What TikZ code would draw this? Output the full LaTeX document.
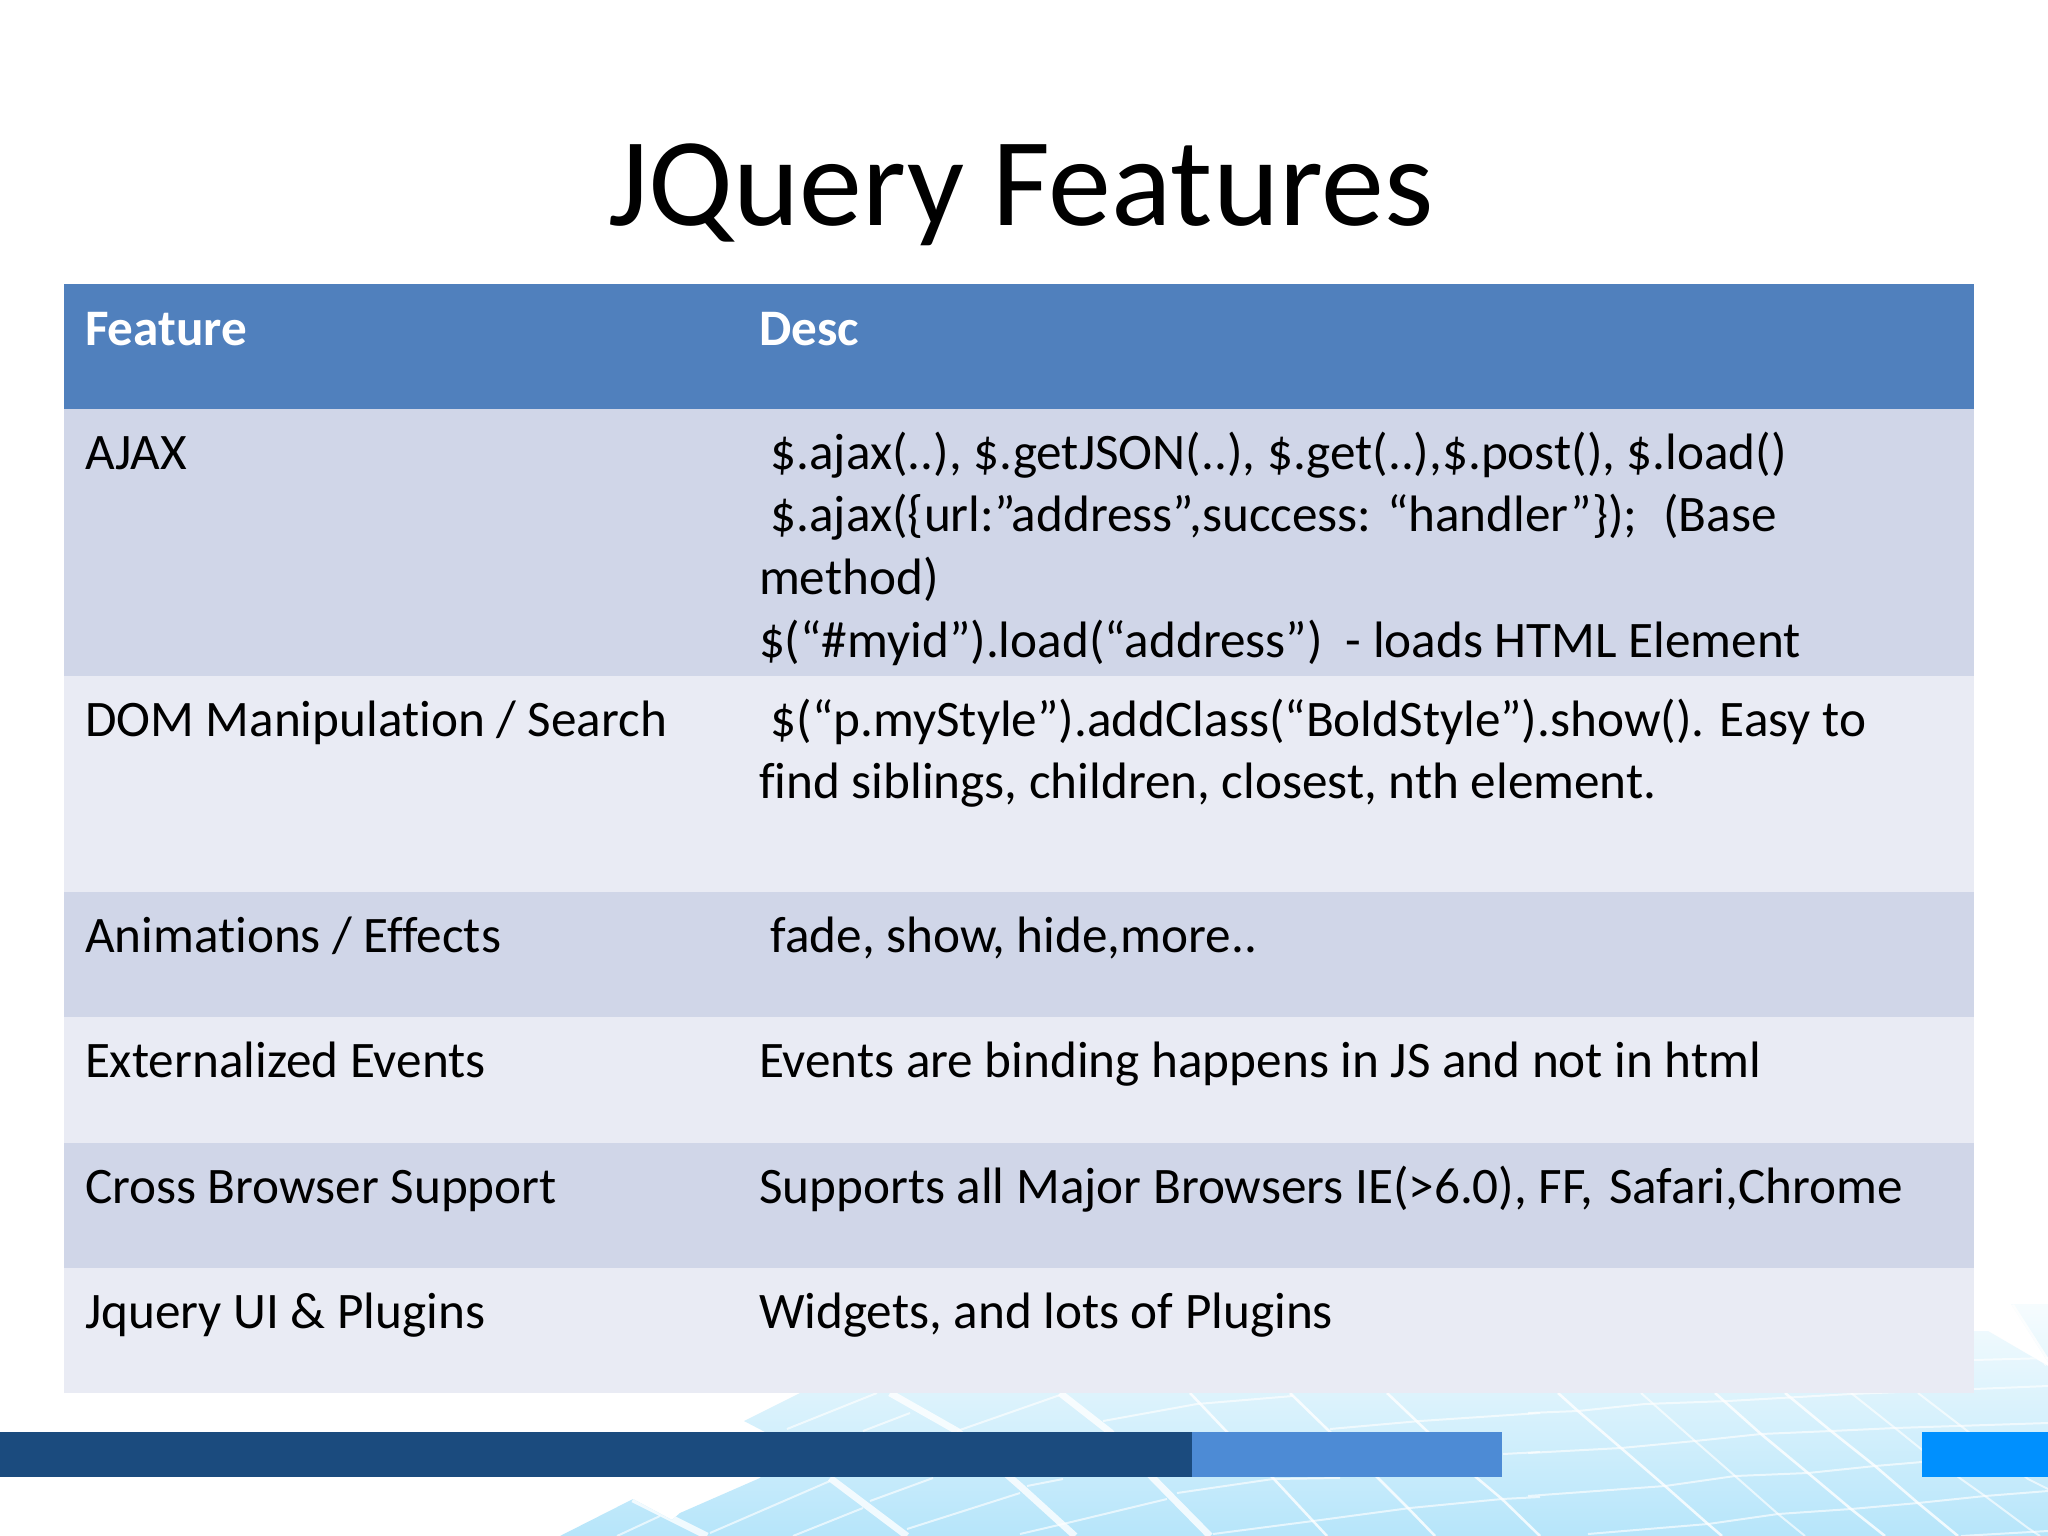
\documentclass[tikz,border=0pt]{standalone}
\usepackage{fontspec}
\setmainfont[Ligatures=NoCommon]{Carlito}
\definecolor{headblue}{HTML}{5080BD}
\definecolor{rowdark}{HTML}{D0D6E8}
\definecolor{rowlight}{HTML}{E9EBF4}
\definecolor{bardark}{HTML}{1B4B7E}
\definecolor{barmid}{HTML}{4D8BD5}
\definecolor{barbright}{HTML}{0090FE}
\definecolor{meshtop}{HTML}{F6FCFE}
\definecolor{meshbot}{HTML}{B6E5FA}
\tikzset{
  celltext/.style={anchor=base west,inner sep=0pt,outer sep=0pt,font=\fontsize{18}{22}\selectfont,text=black},
  headtext/.style={anchor=base west,inner sep=0pt,outer sep=0pt,font=\fontsize{18}{22}\selectfont\bfseries,text=white},
  titletext/.style={anchor=base,inner sep=0pt,outer sep=0pt,font=\fontsize{44.3}{53}\selectfont,text=black},
  gridthick/.style={draw=white,line width=2.4pt,opacity=.8},
  gridthin/.style={draw=white,line width=.9pt,opacity=.8},
  gridfine/.style={draw=white,line width=.7pt,opacity=.65}
}
\newcommand{\lead}{\hspace*{.226em}}
\begin{document}
\begin{tikzpicture}[x=0.3515625pt,y=-0.3515625pt]
\useasboundingbox (0,0) rectangle (2048,1536);
\fill[white] (0,0) rectangle (2048,1536);
% background mesh
\begin{scope}
\clip (560,1536) -- (633,1499) -- (672,1520) -- (680,1513) -- (760,1478) -- (790,1445) -- (744,1421) -- (810,1388)
  -- (1974,1388) -- (1974,1331) -- (1988,1331) -- (2048,1366) -- (2048,1536) -- cycle
  (2011,1304) -- (2048,1304) -- (2048,1362) -- cycle;
\shade[top color=meshtop,bottom color=meshbot] (540,1304) rectangle (2048,1536);
% long lines
\draw[gridthick] (633,1499) -- (707,1536);
\draw[gridthick] (830,1478) -- (907,1536);
\draw[gridthick] (890,1393) -- (957,1431) -- (1020,1486) -- (1075,1536);
\draw[gridthick] (1060,1393) -- (1110,1432) -- (1153,1478) -- (1210,1536);
\draw[gridthin] (1190,1393) -- (1227,1432) -- (1273,1478) -- (1313,1521) -- (1327,1536);
\draw[gridthin] (1290,1393) -- (1327,1429) -- (1378,1478) -- (1408,1508) -- (1435,1536);
\draw[gridthin] (1387,1393) -- (1428,1432) -- (1477,1478) -- (1502,1499) -- (1540,1536);
\draw[gridthin] (1558,1393) -- (1578,1411) -- (1621,1448) -- (1665,1486) -- (1708,1524) -- (1722,1536);
\draw[gridfine] (1641,1393) -- (1695,1441) -- (1735,1476) -- (1778,1514) -- (1805,1536);
\draw[gridthin] (1715,1393) -- (1761,1434) -- (1808,1473) -- (1851,1509) -- (1885,1536);
\draw[gridthin] (1785,1393) -- (1831,1431) -- (1875,1466) -- (1918,1503) -- (1958,1536);
\draw[gridfine] (1851,1393) -- (1895,1428) -- (1921,1449) -- (1961,1479) -- (1985,1496) -- (2028,1528) -- (2040,1536);
\draw[gridfine] (1918,1393) -- (1961,1426) -- (2028,1479) -- (2048,1489);
\draw[gridthick] (2011,1306) -- (2048,1364);
% cross lines
\draw[gridfine] (1528,1413) -- (1578,1411) -- (1645,1404) -- (1728,1401) -- (1851,1394) -- (2048,1386);
\draw[gridfine] (1528,1453) -- (1621,1448) -- (1695,1441) -- (1761,1434) -- (1831,1431) -- (1895,1428) -- (2048,1423);
\draw[gridfine] (1528,1496) -- (1665,1486) -- (1735,1476) -- (1808,1473) -- (1875,1466) -- (1922,1462);
\draw[gridfine] (1588,1534) -- (1708,1524) -- (1778,1514) -- (1851,1509) -- (1918,1503) -- (1985,1496) -- (2048,1491);
\draw[gridfine] (1961,1536) -- (2048,1531);
\draw[gridfine] (1974,1360) -- (2048,1358);
\draw[gridfine] (1020,1409) -- (1060,1395);
\draw[gridfine] (1103,1421) -- (1197,1404) -- (1293,1396);
\draw[gridfine] (1330,1429) -- (1420,1421) -- (1540,1413);
\draw[gridfine] (1027,1486) -- (1063,1479);
\draw[gridfine] (1177,1493) -- (1273,1479) -- (1340,1478);
\draw[gridfine] (1063,1524) -- (1167,1499);
\draw[gridfine] (1020,1534) -- (1063,1524);
\draw[gridfine] (1213,1534) -- (1313,1521) -- (1410,1508) -- (1502,1499) -- (1540,1497);
\draw[gridfine] (1503,1454) -- (1540,1452);
\draw[gridfine] (617,1536) -- (660,1516);
\draw[gridfine] (710,1533) -- (830,1481);
\draw[gridfine] (793,1536) -- (863,1508);
\draw[gridfine] (870,1501) -- (933,1478);
\draw[gridfine] (907,1529) -- (1020,1493);
\draw[gridfine] (787,1429) -- (877,1393);
\draw[gridfine] (863,1431) -- (910,1413);
\draw[gridfine] (957,1431) -- (1020,1409);
\end{scope}
% bars
\fill[bardark] (0,1432) rectangle (1192,1477);
\fill[barmid] (1192,1432) rectangle (1502,1477);
\fill[barbright] (1922,1432) rectangle (2048,1477);
% table
\fill[headblue] (64,284) rectangle (1974,409);
\fill[rowdark] (64,409) rectangle (1974,676);
\fill[rowlight] (64,676) rectangle (1974,892);
\fill[rowdark] (64,892) rectangle (1974,1017);
\fill[rowlight] (64,1017) rectangle (1974,1143);
\fill[rowdark] (64,1143) rectangle (1974,1268);
\fill[rowlight] (64,1268) rectangle (1974,1393);
% title
\node[titletext] (title) at (1021,226) {JQuery Features};
% header
\node[headtext] (h1) at (85,346) {Feature};
\node[headtext] (h2) at (759,346) {Desc};
% rows
\node[celltext] (a1) at (85,470) {AJAX};
\node[celltext] (a2) at (759,470) {\lead\$.ajax(..), \$.getJSON(..), \$.get(..),\$.post(), \$.load()};
\node[celltext] (a3) at (759,532) {\lead\$.ajax(\{url:”address”,success: “handler”\});\ \ \kern.05em(Base};
\node[celltext] (a4) at (759,595) {method)};
\node[celltext] (a5) at (759,657) {\$(“\#myid”).load(“address”)\ \ - loads HTML Element};
\node[celltext] (d1) at (85,736) {DOM Manipulation / Search};
\node[celltext] (d2) at (759,736) {\lead\$(“p.myStyle”).addClass(“BoldStyle”).show(). Easy to};
\node[celltext] (d3) at (759,798) {find siblings, children, closest, nth element.};
\node[celltext] (e1) at (85,952) {Animations / Effects};
\node[celltext] (e2) at (759,952) {\lead fade, show, hide,more..};
\node[celltext] (f1) at (85,1077) {Externalized Events};
\node[celltext] (f2) at (759,1077) {Events are binding happens in JS and not in html};
\node[celltext] (g1) at (85,1203) {Cross Browser Support};
\node[celltext] (g2) at (759,1203) {Supports all Major Browsers IE(>6.0), FF, \kern.08em Safari,Chrome};
\node[celltext] (j1) at (85,1328) {Jquery UI \& Plugins};
\node[celltext] (j2) at (759,1328) {Widgets, and lots of Plugins};
\end{tikzpicture}
\end{document}
